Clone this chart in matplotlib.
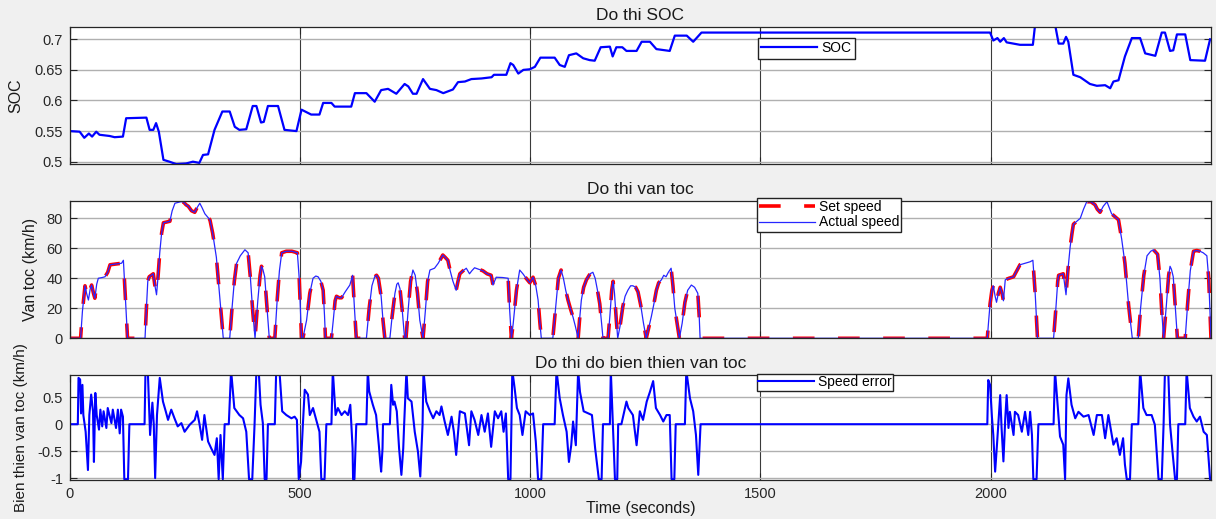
import matplotlib
matplotlib.use("Agg")
import matplotlib.pyplot as plt
import numpy as np

plt.rcParams['font.family'] = ['Liberation Sans', 'DejaVu Sans']

# ---- data (time in seconds) ----
soc_t = [0, 21, 31, 41, 48, 57, 64, 86, 97, 115, 122, 166, 173, 181, 187, 193, 203, 216, 231, 252,
         267, 281, 289, 300, 314, 331, 347, 358, 368, 383, 397, 405, 415, 421, 430, 452, 466, 492, 503, 524,
         542, 550, 568, 575, 611, 619, 644, 662, 676, 691, 709, 727, 735, 745, 753, 767, 782, 796, 811, 832,
         843, 858, 872, 894, 916, 921, 948, 957, 963, 974, 985, 999, 1010, 1022, 1053, 1064, 1075, 1084, 1100, 1115,
         1129, 1140, 1153, 1173, 1179, 1187, 1200, 1209, 1231, 1242, 1260, 1274, 1303, 1314, 1340, 1354, 1372, 1999, 2006, 2015,
         2021, 2029, 2035, 2064, 2092, 2097, 2140, 2148, 2158, 2164, 2169, 2180, 2195, 2216, 2231, 2249, 2260, 2267, 2278, 2292,
         2307, 2325, 2336, 2358, 2372, 2379, 2390, 2397, 2405, 2423, 2434, 2466, 2477]
soc_v = [0.550, 0.549, 0.539, 0.546, 0.541, 0.549, 0.544, 0.542, 0.540, 0.541, 0.571, 0.572, 0.552, 0.552, 0.563, 0.549, 0.503, 0.500, 0.496, 0.497,
         0.500, 0.498, 0.511, 0.512, 0.552, 0.582, 0.582, 0.557, 0.552, 0.553, 0.591, 0.591, 0.564, 0.565, 0.591, 0.591, 0.552, 0.550, 0.585, 0.577,
         0.577, 0.596, 0.596, 0.590, 0.590, 0.612, 0.612, 0.598, 0.617, 0.619, 0.611, 0.627, 0.623, 0.611, 0.611, 0.635, 0.619, 0.617, 0.612, 0.618,
         0.630, 0.631, 0.635, 0.636, 0.638, 0.642, 0.642, 0.661, 0.658, 0.644, 0.650, 0.651, 0.655, 0.670, 0.670, 0.658, 0.655, 0.674, 0.677, 0.669,
         0.666, 0.665, 0.687, 0.688, 0.672, 0.687, 0.687, 0.681, 0.681, 0.696, 0.696, 0.684, 0.681, 0.706, 0.706, 0.696, 0.711, 0.711, 0.698, 0.702,
         0.696, 0.702, 0.695, 0.691, 0.691, 0.725, 0.725, 0.693, 0.693, 0.704, 0.696, 0.642, 0.638, 0.627, 0.624, 0.625, 0.620, 0.631, 0.633, 0.672,
         0.702, 0.702, 0.677, 0.673, 0.711, 0.711, 0.681, 0.682, 0.708, 0.708, 0.666, 0.665, 0.700]

speed_t = [0, 23, 27, 32.6, 36, 40, 44, 47, 51, 54, 58, 61.5, 70, 76, 82, 87, 100, 112, 116, 119,
           125, 163, 166, 169, 172, 181, 184, 188, 191, 195, 199, 203, 217, 222, 228, 240, 246, 252, 257, 264,
           271, 276, 282, 287, 293, 304, 310, 318, 326, 333, 347, 352, 357, 362, 370, 380, 387, 392, 397, 402,
           408, 413, 416, 419, 423, 428, 433, 445, 450, 455, 460, 470, 482, 494, 498, 503, 506, 514, 521, 528,
           534, 539, 545, 550, 553, 555, 568, 572, 576, 579, 585, 590, 598, 608, 614, 618, 622, 644, 650, 656,
           662, 666, 670, 676, 680, 684, 695, 700, 706, 710, 713, 717, 722, 727, 730, 735, 740, 745, 750, 755,
           760, 767, 772, 777, 782, 792, 800, 810, 815, 821, 826, 832, 839, 843, 847, 854, 861, 868, 873, 879,
           888, 897, 906, 915, 919, 926, 940, 952, 955, 959, 963, 970, 977, 984, 991, 999, 1006, 1012, 1017, 1021,
           1024, 1049, 1055, 1061, 1067, 1072, 1077, 1082, 1087, 1093, 1098, 1104, 1107, 1111, 1116, 1122, 1130, 1136, 1141, 1146,
           1151, 1155, 1158, 1169, 1173, 1177, 1180, 1183, 1187, 1190, 1195, 1201, 1206, 1212, 1218, 1223, 1229, 1234, 1240, 1246,
           1252, 1258, 1263, 1268, 1274, 1279, 1285, 1290, 1295, 1300, 1306, 1310, 1314, 1317, 1321, 1324, 1330, 1336, 1342, 1350,
           1357, 1364, 1367, 1369, 1993, 1996, 1999, 2003, 2006, 2010, 2013, 2017, 2021, 2025, 2028, 2032, 2040, 2050, 2057, 2064,
           2075, 2086, 2092, 2097, 2102, 2137, 2142, 2146, 2148, 2158, 2161, 2164, 2168, 2173, 2177, 2180, 2195, 2202, 2209, 2218,
           2227, 2232, 2238, 2245, 2253, 2258, 2263, 2278, 2285, 2292, 2300, 2308, 2321, 2326, 2333, 2340, 2348, 2354, 2363, 2368,
           2372, 2376, 2382, 2387, 2390, 2393, 2397, 2402, 2406, 2423, 2428, 2434, 2441, 2448, 2455, 2462, 2470, 2474, 2479]
set_speed = [0, 0, 18, 35, 30, 25.5, 33, 35.5, 30, 26.7, 36, 40, 40.5, 41, 44, 49, 49.5, 50, 52, 35,
             0, 0, 20, 38, 41, 43, 36, 29, 40, 57, 70, 77, 78, 85, 90, 91, 91, 89, 88, 85,
             84, 87, 90, 87, 83, 79, 70, 54, 25, 0, 0, 20, 38, 50, 55, 59, 57, 40, 18, 0,
             25, 42, 48, 46, 41, 20, 0, 0, 25, 45, 57, 58, 58, 57, 40, 0, 0, 12, 30, 40,
             41.5, 41, 38, 32, 15, 0, 0, 12, 25, 28, 27, 27, 31, 35.5, 42, 20, 0, 0, 20, 35,
             41, 42, 40, 28, 12, 0, 0, 15, 30, 36, 37, 33, 18, 0, 0, 20, 38, 45.5, 42, 30,
             12, 0, 18, 38, 45.5, 46.7, 50, 55.5, 54, 52, 45, 38, 32, 38, 43, 45, 46.7, 43, 45, 47,
             46, 45, 43, 42, 35.5, 40.7, 40.5, 40, 20, 0, 10, 32, 45.5, 43, 40, 37, 40.7, 35, 25.5, 10,
             0, 0, 20, 40, 45.5, 40, 32, 25.5, 20, 14, 8, 0, 12, 25.5, 34, 39, 43, 44, 40, 32,
             23, 10, 0, 0, 15, 32, 38, 30, 12, 0, 8, 21, 28, 32, 35, 35, 34, 31, 22, 10,
             0, 8, 14.4, 22, 32, 37, 39, 42, 41, 44, 46.7, 35, 20, 14, 6, 0, 10, 24, 32, 35.5,
             34, 30, 15, 0, 0, 12, 23, 32, 35, 28, 24, 30, 34, 30, 25, 39, 40, 41, 45, 49,
             50, 51, 52, 30, 0, 0, 20, 38, 42, 43, 36, 29, 45, 61, 70, 76, 80, 86, 91, 91,
             89, 86, 84, 88, 91, 87, 83, 79, 66, 50, 22, 0, 0, 20, 42, 55, 58, 59, 56, 40,
             18, 0, 22, 42, 48, 46, 41, 18, 0, 0, 22, 45, 58, 58.5, 58, 57, 55, 40, 0]
# the tracked speed sits on the set speed everywhere at this scale
actual_speed = set_speed

err_t = [0, 17, 18.5, 22, 24, 27, 29, 34, 39, 42, 46, 50, 52, 55, 58, 63, 66, 70, 73, 79,
         82, 90, 93, 100, 104, 108, 111, 115, 118, 126, 129, 162, 164, 169, 174, 179, 182, 185, 189, 195,
         202, 208, 213, 220, 227, 234, 242, 249, 260, 271, 276, 281, 287, 292, 300, 307, 314, 319, 323, 327,
         332, 336, 345, 350, 357, 368, 376, 383, 389, 396, 401, 405, 410, 414, 419, 423, 427, 430, 445, 448,
         455, 461, 470, 481, 488, 493, 497, 502, 506, 510, 517, 521, 528, 535, 542, 546, 553, 557, 568, 571,
         577, 582, 590, 597, 604, 609, 614, 615, 618, 622, 644, 647, 650, 658, 665, 671, 674, 676, 679, 680,
         695, 698, 702, 705, 710, 715, 720, 724, 726, 731, 734, 742, 749, 756, 761, 766, 768, 774, 782, 789,
         796, 803, 807, 814, 821, 829, 834, 839, 847, 858, 867, 872, 879, 887, 894, 901, 908, 915, 923, 930,
         937, 942, 947, 952, 957, 961, 966, 971, 977, 983, 990, 999, 1006, 1012, 1017, 1024, 1028, 1053, 1057, 1064,
         1071, 1079, 1084, 1089, 1093, 1099, 1104, 1108, 1116, 1134, 1141, 1149, 1155, 1158, 1173, 1175, 1180, 1184, 1189, 1191,
         1198, 1209, 1213, 1223, 1231, 1238, 1245, 1253, 1260, 1267, 1273, 1282, 1289, 1296, 1303, 1307, 1313, 1316, 1336, 1339,
         1347, 1354, 1360, 1365, 1370, 1993, 1995, 1999, 2003, 2006, 2010, 2014, 2021, 2024, 2028, 2032, 2035, 2039, 2042, 2050,
         2053, 2060, 2068, 2075, 2082, 2086, 2090, 2093, 2100, 2104, 2137, 2140, 2147, 2151, 2158, 2162, 2165, 2169, 2176, 2184,
         2191, 2202, 2213, 2224, 2231, 2242, 2249, 2256, 2267, 2274, 2281, 2288, 2292, 2296, 2303, 2307, 2321, 2325, 2332, 2339,
         2350, 2357, 2365, 2372, 2376, 2379, 2386, 2390, 2396, 2401, 2405, 2408, 2423, 2426, 2433, 2441, 2448, 2455, 2463, 2470,
         2477]
err_v = [0, 0, 0.86, 0.83, 0.2, 0.73, 0.17, -0.14, -0.85, 0.17, 0.55, 0.24, -0.7, 0.58, 0.17, -0.1, 0.27, -0.04, 0.24, -0.07,
         0.3, 0.02, 0.27, -0.07, 0.27, -0.17, 0.27, 0.14, -1.02, -1.02, 0, 0, 1.0, 1.0, -0.2, 0.4, 0, -1.0, 0.17, 0.86,
         0.42, 0.24, 0.08, 0.27, 0.11, -0.04, 0.02, -0.14, -0.01, 0.08, 0.24, 0.02, -0.29, 0.17, -0.32, -0.45, -0.57, -0.26, -1.02, -0.2,
         -1.02, 0, 0, 1.0, 0.3, 0.17, 0.11, -0.14, -1.02, -1.02, 0, 1.0, 1.0, 0.36, 0.02, -1.02, -1.02, 0, 0, 1.0,
         1.0, 0.24, 0.17, 0.11, 0.14, 0.08, -1.02, -0.7, 0, 0.64, 0.55, 0.17, 0.3, 0.08, -0.14, -1.02, -1.02, 0, 0, 1.0,
         0.17, 0.3, 0.17, 0.24, 0.17, 0.36, -0.45, -1.02, -1.02, 0, 0, 1.0, 0.61, 0.36, 0.17, -0.39, -0.7, -0.88, -0.45, 0,
         0, 0.73, 0.36, 0.42, 0.24, -0.45, -0.94, -0.45, 0, 1.0, 0.48, 0.42, -0.14, -0.51, -0.97, 0, 1.0, 0.42, 0.24, 0.11,
         0.24, 0.17, 0.33, 0.05, -0.2, 0.14, -0.14, -0.57, 0.24, 0.2, -0.39, 0.24, 0.08, -0.2, 0.17, -0.14, 0.2, -0.42, 0.24, 0.11,
         0.24, -0.14, 0.2, -1.02, -1.02, 1.0, 0.67, 0.3, 0.17, -0.2, 0.24, 0.17, 0.2, -0.32, -1.02, -1.02, 0, 0, 1.0, 0.48,
         0.17, -0.14, -0.7, -0.39, 0.05, -0.39, 1.0, 0.6, 0.24, 0.17, -0.45, -1.02, -1.02, 0, 0, 1.0, -0.14, -1.02, -1.02, 0,
         0, 0.42, 0.3, 0.17, -0.39, 0.24, 0.08, 0.42, 0.6, 0.8, 0.3, 0.17, 0.05, 0.17, 0.17, -1.02, -1.02, 0, 0, 1.0,
         0.48, 0.24, -0.2, -0.94, 0, 0, 0.82, 0.73, 0.14, -0.2, -0.88, -0.38, 0.54, -0.07, -0.69, 0.11, 0.54, -0.07, 0.23, -0.2,
         0.23, 0.17, -0.14, 0.23, -0.2, 0.23, -0.2, -1.02, -1.02, 0, 0, 1.0, 0.23, -0.23, -0.38, -1.02, 0.54, 0.85, 0.36, 0.11,
         0.23, 0.14, 0.17, -0.2, 0.17, 0.17, -0.26, 0.17, -0.38, -0.26, -0.57, -0.26, -0.75, -1.02, -1.02, 0, 0, 1.0, 0.3, 0.17,
         0.17, -0.01, -1.02, -1.02, 0, 1.0, 1.0, 0, -0.57, -1.02, -1.02, 0, 0, 1.0, 0.3, 0.14, 0.05, 0.14, -0.14, -0.2,
         -1.02]

x_ticks = [0, 500, 1000, 1500, 2000]
soc_ticks = [0.5, 0.55, 0.6, 0.65, 0.7]
soc_ticklabels = ['0.5', '0.55', '0.6', '0.65', '0.7']
speed_ticks = [0, 20, 40, 60, 80]
err_ticks = [-1, -0.5, 0, 0.5]
err_ticklabels = ['-1', '-0.5', '0', '0.5']

# ---- figure ----
W, H = 1216, 519
fig = plt.figure(figsize=(W / 100, H / 100), dpi=100, facecolor='#f0f0f0')

def box(left, top, right, bottom):
    return [left / W, 1 - bottom / H, (right - left) / W, (bottom - top) / H]

ax1 = fig.add_axes(box(70, 26.7, 1211, 164))
ax2 = fig.add_axes(box(70, 200.7, 1211, 338.3))
ax3 = fig.add_axes(box(70, 375, 1211, 480))

txt = '#1a1a1a'
for ax in (ax1, ax2, ax3):
    ax.set_xlim(0, 2479)
    ax.set_xticks(x_ticks)
    ax.tick_params(direction='in', top=True, right=True, length=5, width=0.8,
                   labelsize=10.5, colors='#262626', pad=5)
    ax.yaxis.grid(True, color='#b0b0b0', lw=1.0)
    ax.xaxis.grid(True, color='#3a3a3a', lw=0.8)
    ax.set_axisbelow(True)
    for s in ax.spines.values():
        s.set_color('#262626')
        s.set_linewidth(0.9)

leg_kw = dict(loc='upper left', fontsize=10, fancybox=False, edgecolor='#222222',
              framealpha=1, handlelength=4.0, handletextpad=0.3, borderaxespad=0)

# SOC
ax1.plot(soc_t, soc_v, color='#0000ff', lw=1.6, label='SOC')
ax1.set_ylim(0.4962, 0.7206)
ax1.set_yticks(soc_ticks)
ax1.set_yticklabels(soc_ticklabels)
ax1.tick_params(labelbottom=False)
ax1.set_title('Do thi SOC', fontsize=12.5, color=txt, pad=5)
ax1.set_ylabel('SOC', fontsize=11.5, color=txt)
ax1.yaxis.set_label_coords(-0.041, 0.5)
ax1.legend(bbox_to_anchor=(0.603, 0.92), borderpad=0.25, **leg_kw)

# speed
ax2.plot(speed_t, set_speed, color='#ff0000', lw=2.6, ls=(0, (6, 6.5)), label='Set speed')
ax2.plot(speed_t, actual_speed, color='#2626ff', lw=0.9, label='Actual speed')
ax2.set_ylim(0, 91.7)
ax2.set_yticks(speed_ticks)
ax2.tick_params(labelbottom=False)
ax2.set_title('Do thi van toc', fontsize=12.5, color=txt, pad=5)
ax2.set_ylabel('Van toc (km/h)', fontsize=11.5, color=txt)
ax2.yaxis.set_label_coords(-0.028, 0.5)
ax2.legend(bbox_to_anchor=(0.602, 1.02), borderpad=0.15, labelspacing=0.1, **leg_kw)

# speed error
ax3.plot(err_t, err_v, color='#0000ff', lw=1.5, label='Speed error')
ax3.set_ylim(-1.035, 0.913)
ax3.set_yticks(err_ticks)
ax3.set_yticklabels(err_ticklabels)
ax3.set_title('Do thi do bien thien van toc', fontsize=12.5, color=txt, pad=5)
ax3.set_ylabel('Bien thien van toc (km/h)', fontsize=11, color=txt)
ax3.yaxis.set_label_coords(-0.037, 0.5)
ax3.set_xlabel('Time (seconds)', fontsize=11.5, color=txt, labelpad=0)
ax3.legend(bbox_to_anchor=(0.602, 1.01), borderpad=0.1, **leg_kw)

fig.savefig('out.png', dpi=100, facecolor=fig.get_facecolor())
